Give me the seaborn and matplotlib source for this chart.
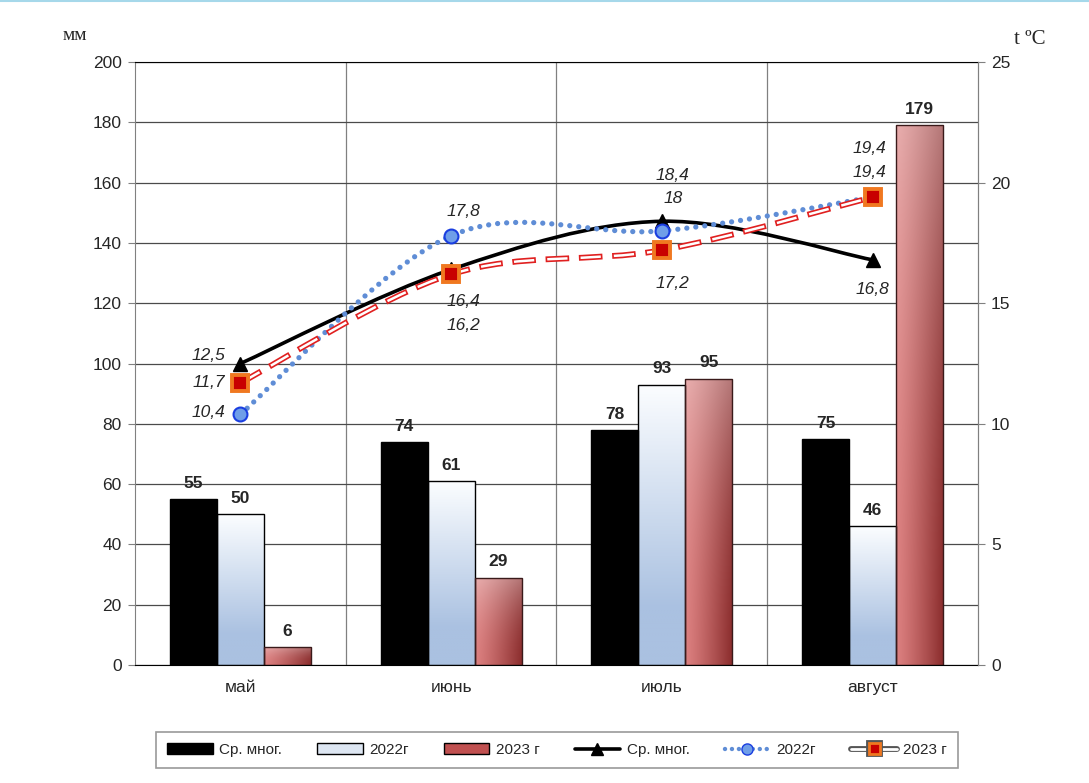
import numpy as np
import pandas as pd
import matplotlib
matplotlib.use('Agg')
import matplotlib.pyplot as plt
import seaborn as sns
from matplotlib.path import Path
from matplotlib.patches import PathPatch, Patch
from matplotlib.lines import Line2D
from matplotlib.colors import to_rgb
import matplotlib.patheffects as pe

# data
months = ['май', 'июнь', 'июль', 'август']
series_names = ['Ср. мног.', '2022г', '2023 г']
precip_avg = [55, 74, 78, 75]
precip_2022 = [50, 61, 93, 46]
precip_2023 = [6, 29, 95, 179]
temp_avg = [12.5, 16.4, 18.4, 16.8]
temp_2022 = [10.4, 17.8, 18.0, 19.4]
temp_2023 = [11.7, 16.2, 17.2, 19.4]

# label offsets in pixels (avg, 2022, 2023) per month
lbl_off_avg = [(-32, 8), (12, -32), (11, 46), (0, -30)]
lbl_off_22 = [(-32, 2), (12, 24), (11, 32), (-3, 49)]
lbl_off_23 = [(-32, 0), (12, -51), (11, -33), (-3, 25)]

sns.set_style('white')
plt.rcParams['font.family'] = ['Liberation Sans', 'DejaVu Sans']
plt.rcParams['lines.scale_dashes'] = False

df = pd.DataFrame({
    'month': months * 3,
    'series': [s for s in series_names for _ in months],
    'value': precip_avg + precip_2022 + precip_2023,
})

fig = plt.figure(figsize=(10.89, 7.83), dpi=100)
ax = fig.add_axes([0.124, 0.1507, 0.774, 0.770])

sns.barplot(data=df, x='month', y='value', hue='series', hue_order=series_names,
            order=months, palette=['black', '#dde6f2', '#c05050'], width=0.67,
            edgecolor='black', linewidth=1, legend=False, ax=ax, zorder=2)


def fill_gradient(patch, kind):
    x, y = patch.get_x(), patch.get_y()
    w, h = patch.get_width(), patch.get_height()
    n = 64
    fx = np.linspace(0, 1, n)[None, :]
    fy = np.linspace(0, 1, n)[:, None]  # 0 top, 1 bottom
    if kind == 'blue':
        top = np.array(to_rgb('#fbfdff'))
        bot = np.array(to_rgb('#aac1e1'))
        t = np.clip(fy * 1.25, 0, 1)[..., None] * np.ones((1, n, 1))
        img = top * (1 - t) + bot * t
    else:
        left = np.array(to_rgb('#dc8080'))
        right = np.array(to_rgb('#8a2c2c'))
        t = (fx ** 1.2)[..., None] * np.ones((n, 1, 1))
        img = left * (1 - t) + right * t
        light = (0.35 * (1 - fy) ** 2)[..., None] * np.ones((1, n, 1))
        img = img * (1 - light) + light
    im = ax.imshow(img, extent=[x, x + w, y, y + h], origin='upper', aspect='auto',
                   zorder=1.9, interpolation='bilinear')
    im.set_clip_path(patch)
    patch.set_facecolor('none')


for bar in ax.containers[1]:
    fill_gradient(bar, 'blue')
for bar in ax.containers[2]:
    fill_gradient(bar, 'red')
    bar.set_edgecolor('#3a1a1a')

ax.set_xlim(-0.5, 3.5)
ax.set_ylim(0, 200)

for cont in ax.containers:
    ax.bar_label(cont, padding=6, fontsize=12.5, fontweight='bold')

ax.set_yticks(np.arange(0, 201, 20))
ax.set_xticks([0.5, 1.5, 2.5], minor=True)
ax.set_axisbelow(True)
ax.grid(axis='y', which='major', color='#4a4a4a', linewidth=0.9)
ax.grid(axis='x', which='minor', color='#808080', linewidth=0.9)
ax.tick_params(axis='x', which='major', length=0, labelsize=12.5, pad=11)
ax.tick_params(axis='x', which='minor', length=5, color='#808080', direction='out')
ax.tick_params(axis='y', length=5, color='#808080', direction='out', labelsize=12.5, pad=4.5)
ax.set_xlabel('')
ax.set_ylabel('')
for side in ['left', 'right']:
    ax.spines[side].set_color('#808080')
ax.spines['top'].set_color('black')
ax.spines['bottom'].set_color('black')

ax2 = ax.twinx()
ax2.set_ylim(0, 25)
ax2.set_yticks(np.arange(0, 26, 5))
ax2.tick_params(axis='y', length=5, color='#808080', direction='out', labelsize=12.5, pad=4.5)
for s in ax2.spines.values():
    s.set_visible(False)
ax2.spines['right'].set_visible(True)
ax2.spines['right'].set_color('#808080')


def smooth_path(ys):
    # Excel style smoothed line: cubic bezier through each point
    pts = np.column_stack([np.arange(len(ys)), ys]).astype(float)
    verts = [pts[0]]
    codes = [Path.MOVETO]
    for i in range(len(pts) - 1):
        p0 = pts[i - 1] if i > 0 else pts[i]
        p1, p2 = pts[i], pts[i + 1]
        p3 = pts[i + 2] if i + 2 < len(pts) else pts[i + 1]
        verts += [p1 + (p2 - p0) / 6, p2 - (p3 - p1) / 6, p2]
        codes += [Path.CURVE4] * 3
    return Path(verts, codes)


ax2.add_patch(PathPatch(smooth_path(temp_avg), fill=False, edgecolor='black',
                        linewidth=2.6, zorder=3))
ax2.add_patch(PathPatch(smooth_path(temp_2022), fill=False, edgecolor='#5f8dd6',
                        linewidth=3.8, linestyle=(0, (0.01, 6.5)), capstyle='round',
                        zorder=3))
ax2.add_patch(PathPatch(smooth_path(temp_2023), fill=False, edgecolor='#e02020',
                        linewidth=4.2, linestyle=(0, (17, 7)), capstyle='butt',
                        zorder=3))
ax2.add_patch(PathPatch(smooth_path(temp_2023), fill=False, edgecolor='white',
                        linewidth=1.8, linestyle=(22.8, (14.6, 9.4)), capstyle='butt',
                        zorder=3.1))

xs = np.arange(len(months))
ax2.plot(xs, temp_avg, linestyle='none', marker='^', markersize=10,
         color='black', zorder=4)
ax2.plot(xs, temp_2022, linestyle='none', marker='o', markersize=10,
         markerfacecolor='#6f9ee8', markeredgecolor='#1a3ee0', markeredgewidth=1.5, zorder=4)
ax2.plot(xs, temp_2023, linestyle='none', marker='s', markersize=11,
         markerfacecolor='#c80000', markeredgecolor='#f07820', markeredgewidth=2.8, zorder=4)


def fmt(v):
    return f'{v:g}'.replace('.', ',')


for vals, offs in [(temp_avg, lbl_off_avg), (temp_2022, lbl_off_22), (temp_2023, lbl_off_23)]:
    for i, v in enumerate(vals):
        ax2.annotate(fmt(v), (i, v), xytext=offs[i], textcoords='offset pixels',
                     ha='center', va='center', fontsize=12.5, style='italic', zorder=5)

fig.text(75 / 1089, 1 - 35 / 783, 'мм', family='Liberation Serif', fontsize=14,
         ha='center', va='center')
fig.text(1030 / 1089, 1 - 40 / 783, 't ºC', family='Liberation Serif', fontsize=15,
         ha='center', va='center')

handles = [
    Patch(facecolor='black', edgecolor='black'),
    Patch(facecolor='#dde6f2', edgecolor='black'),
    Patch(facecolor='#c05050', edgecolor='black'),
    Line2D([], [], color='black', linewidth=2.6, marker='^', markersize=9),
    Line2D([], [], color='#5f8dd6', linewidth=3.2, linestyle=(0, (0.01, 5)),
           dash_capstyle='round', marker='o', markersize=8,
           markerfacecolor='#6f9ee8', markeredgecolor='#1a3ee0'),
    Line2D([], [], color='white', linewidth=2, marker='s', markersize=8,
           markerfacecolor='#c80000', markeredgecolor='#f07820', markeredgewidth=2,
           path_effects=[pe.Stroke(linewidth=4.2, foreground='#555555'), pe.Normal()]),
]
leg = fig.legend(handles, series_names + series_names, loc='center',
                 bbox_to_anchor=(557 / 1089, 1 - 750 / 783), ncol=6, frameon=True,
                 fancybox=False, fontsize=11, handlelength=3.0, handletextpad=0.4,
                 columnspacing=2.3, borderpad=0.7)
leg.get_frame().set_edgecolor('#808080')
leg.get_frame().set_linewidth(1.2)

fig.add_artist(Line2D([0, 1], [0.999, 0.999], color='#a6d8ea', linewidth=1.5,
                      transform=fig.transFigure))

fig.savefig('out.png', dpi=100)
